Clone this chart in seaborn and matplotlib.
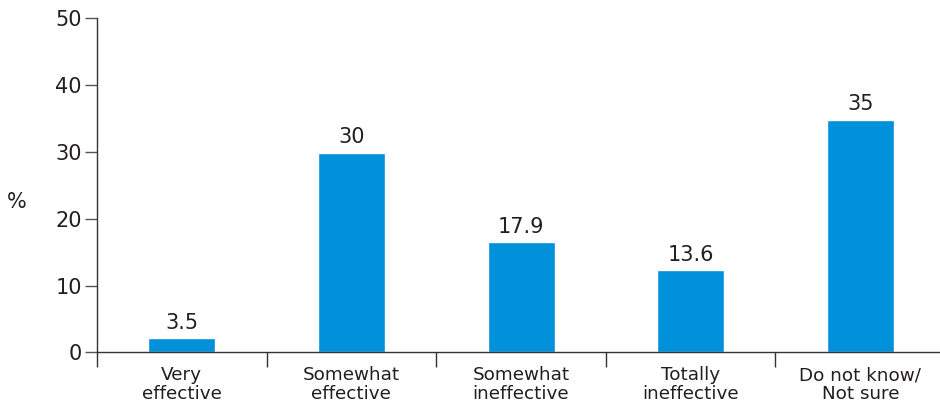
import matplotlib
matplotlib.use("Agg")
import matplotlib.pyplot as plt
import seaborn as sns
import numpy as np

# categories and values
categories = ["Very\neffective", "Somewhat\neffective", "Somewhat\nineffective",
              "Totally\nineffective", "Do not know/\nNot sure"]
bar_heights = [2.1, 29.9, 16.5, 12.3, 34.8]   # drawn bar heights
value_labels = ["3.5", "30", "17.9", "13.6", "35"]  # printed labels
y_ticks = [0, 10, 20, 30, 40, 50]

bar_color = "#0091DA"
text_color = "#231F20"

sns.set_style("white")
plt.rcParams["font.family"] = ["DejaVu Sans"]

fig = plt.figure(figsize=(9.4, 4.07), dpi=100)
ax = fig.add_axes([97 / 940, (407 - 352.3) / 407, 1 - 97 / 940, 334 / 407])

sns.barplot(x=categories, y=bar_heights, color=bar_color, width=0.395,
            saturation=1, ax=ax)

ax.bar_label(ax.containers[0], labels=value_labels, padding=4,
             fontsize=15, color=text_color)

ax.set_ylim(0, 50)
ax.set_xlim(-0.5, 4.47)
ax.set_yticks(y_ticks)
ax.tick_params(axis="y", left=True, length=9, width=1, color="#555555",
               labelsize=15, labelcolor=text_color, pad=2)

# category labels centered, tick marks at category boundaries
ax.tick_params(axis="x", which="major", length=0, pad=10,
               labelsize=13.2, labelcolor=text_color)
ax.set_xticks(np.arange(-0.5, 4.0, 1.0), minor=True)
ax.tick_params(axis="x", which="minor", bottom=True, length=11, width=1,
               color="#333333")
for lbl in ax.get_xticklabels():
    lbl.set_linespacing(1.05)

for s in ["top", "right"]:
    ax.spines[s].set_visible(False)
for s in ["left", "bottom"]:
    ax.spines[s].set_color("#333333")
    ax.spines[s].set_linewidth(1)

ax.set_xlabel("")
ax.set_ylabel("%", rotation=0, fontsize=15, color=text_color)
ax.yaxis.set_label_coords(-80 / 843, 0.42)

fig.savefig("out.png", dpi=100)
